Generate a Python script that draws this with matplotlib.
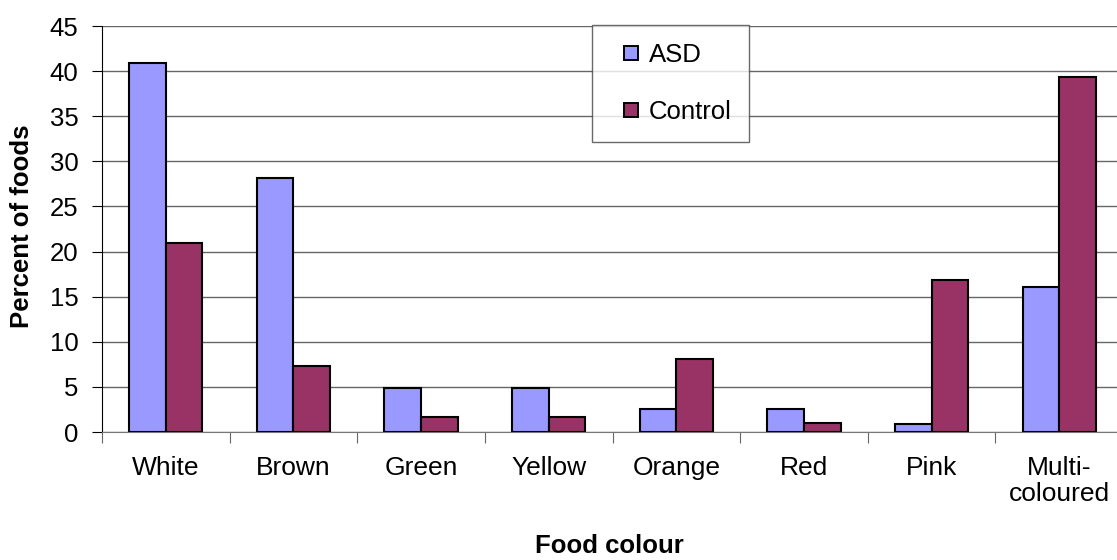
import numpy as np
import matplotlib.pyplot as plt
from matplotlib.lines import Line2D

# Percent of foods by colour
colours = ['White', 'Brown', 'Green', 'Yellow', 'Orange', 'Red', 'Pink', 'Multi-\ncoloured']
asd = [40.9, 28.1, 4.9, 4.9, 2.6, 2.6, 0.9, 16.1]
control = [20.9, 7.3, 1.7, 1.7, 8.1, 1.0, 16.9, 39.4]

plt.rcParams['font.family'] = ['Liberation Sans', 'DejaVu Sans']
fs = 18.5

fig = plt.figure(figsize=(11.17, 5.6), dpi=100)
ax = fig.add_axes([102 / 1117, 1 - 432 / 560, 1021 / 1117, 406 / 560])

x = np.arange(len(colours))
w = 0.287
ax.bar(x - w / 2, asd, w, color='#9999FF', edgecolor='black', linewidth=1.5, zorder=3)
ax.bar(x + w / 2, control, w, color='#993366', edgecolor='black', linewidth=1.5, zorder=3)

ax.set_xlim(-0.5, len(colours) - 0.5)
ax.set_ylim(0, 45)
ax.set_yticks(range(0, 46, 5))
ax.yaxis.grid(True, color='#666666', linewidth=1.0, zorder=0)

# category labels sit between the boundary ticks
ax.set_xticks(np.arange(len(colours) + 1) - 0.5)
ax.set_xticklabels([])
ax.set_xticks(x, minor=True)
ax.set_xticklabels(colours, minor=True, fontsize=19, linespacing=1.1)
ax.tick_params(axis='x', which='major', length=8, color='#666666', direction='out')
ax.tick_params(axis='x', which='minor', length=0, pad=17)
ax.tick_params(axis='y', labelsize=fs, length=7, color='black', pad=10)

for s in ['top', 'right']:
    ax.spines[s].set_visible(False)
ax.spines['bottom'].set_color('#777777')
ax.spines['left'].set_color('black')

fig.text(22.5 / 1117, 1 - 226 / 560, 'Percent of foods', fontsize=fs, fontweight='bold',
         rotation=90, ha='center', va='center')
fig.text(609 / 1117, 1 - 546 / 560, 'Food colour', fontsize=fs,
         fontweight='bold', ha='center', va='center')

handles = [Line2D([], [], linestyle='None', marker='s', markersize=10.5, markerfacecolor=c,
                  markeredgecolor='black', markeredgewidth=1.4, label=n)
           for c, n in [('#9999FF', 'ASD'), ('#993366', 'Control')]]
leg = ax.legend(handles=handles, loc='upper left', bbox_to_anchor=((592 - 102) / 1021, 1.0025),
                fontsize=fs, frameon=True, fancybox=False, edgecolor='#444444',
                handlelength=1.6, handletextpad=-0.1,
                labelspacing=1.3, borderpad=0.7, borderaxespad=0)
leg.get_frame().set_linewidth(1.0)

fig.savefig('out.png', dpi=100, facecolor='white')
